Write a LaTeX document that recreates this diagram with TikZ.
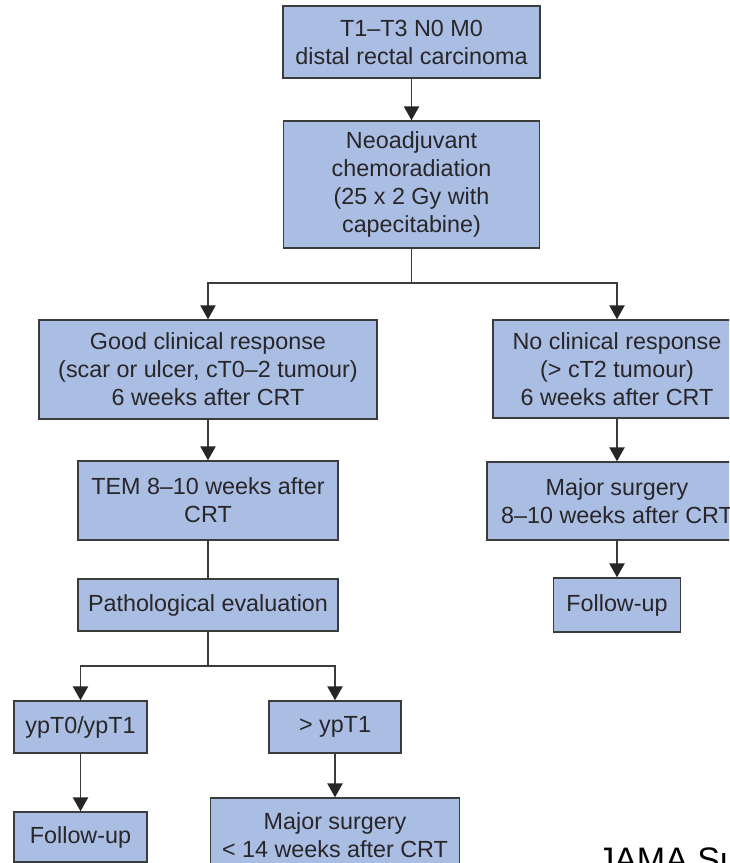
\documentclass[tikz,border=0pt]{standalone}
\usepackage{fontspec}
\setmainfont{Liberation Sans}
\usetikzlibrary{arrows.meta}
\definecolor{boxfill}{RGB}{170,189,227}
\definecolor{boxline}{RGB}{60,60,60}
\definecolor{txt}{RGB}{40,38,40}
\definecolor{conn}{RGB}{60,60,60}
\begin{document}
\begin{tikzpicture}[x=0.75pt,y=-0.75pt,
  box/.style={draw=boxline,fill=boxfill,line width=1.1pt,inner sep=0pt,
    align=center,text=txt,font=\fontsize{17.5pt}{21pt}\selectfont},
  link/.style={draw=conn,line width=1.2pt},
  arr/.style={link,-{Triangle[width=11.5pt,length=10.5pt,fill=black!85,color=black!85]}}]
\useasboundingbox (0,0) rectangle (729,863);
\clip (0,0) rectangle (729,863);
\node[box,minimum width=192.75pt,minimum height=54pt] (B1) at (411.5,42)
  {T1–T3 N0 M0\\distal rectal carcinoma};
\node[box,minimum width=192pt,minimum height=95.25pt] (B2) at (411.5,184.5)
  {Neoadjuvant\\chemoradiation\\(25 x 2 Gy with\\capecitabine)};
\node[box,minimum width=253.5pt,minimum height=74.25pt] (G) at (208,369.5)
  {Good clinical response\\(scar or ulcer, cT0–2 tumour)\\6 weeks after CRT};
\node[box,minimum width=186pt,minimum height=73.5pt] (N) at (617,369)
  {No clinical response\\(> cT2 tumour)\\6 weeks after CRT};
\node[box,minimum width=195pt,minimum height=59.25pt] (TEM) at (208,500.5)
  {TEM 8–10 weeks after\\CRT};
\node[box,minimum width=195pt,minimum height=39pt] (P) at (208,605)
  {Pathological evaluation};
\node[box,minimum width=99.75pt,minimum height=39pt] (Y0) at (80.5,727)
  {ypT0/ypT1};
\node[box,minimum width=99pt,minimum height=39pt] (Y1) at (335,727)
  {> ypT1};
\node[box,minimum width=99.75pt,minimum height=37.5pt] (F1) at (80.5,837)
  {Follow-up};
\node[box,minimum width=186.75pt,minimum height=55.5pt] (M2) at (335,835)
  {Major surgery\\< 14 weeks after CRT};
\node[box,minimum width=195pt,minimum height=58.5pt] (M1) at (617,501)
  {Major surgery\\8–10 weeks after CRT};
\node[box,minimum width=95.25pt,minimum height=40.5pt] (F2) at (617,605)
  {Follow-up};
\node[anchor=base west,inner sep=0pt,text=black,font=\fontsize{25.5pt}{30pt}\selectfont] (J) at (597,871) {JAMA Su};
\coordinate (j1) at (411.5,283);
\coordinate (j2) at (208,666);
\draw[arr] (B1.south) -- (B2.north);
\draw[link] (B2.south) -- (j1);
\draw[arr] (j1) -| (G.north);
\draw[arr] (j1) -| (N.north);
\draw[arr] (G.south) -- (TEM.north);
\draw[link] (TEM.south) -- (P.north);
\draw[link] (P.south) -- (j2);
\draw[arr] (j2) -| (Y0.north);
\draw[arr] (j2) -| (Y1.north);
\draw[arr] (Y0.south) -- (F1.north);
\draw[arr] (Y1.south) -- (M2.north);
\draw[arr] (N.south) -- (M1.north);
\draw[arr] (M1.south) -- (F2.north);
\end{tikzpicture}
\end{document}
